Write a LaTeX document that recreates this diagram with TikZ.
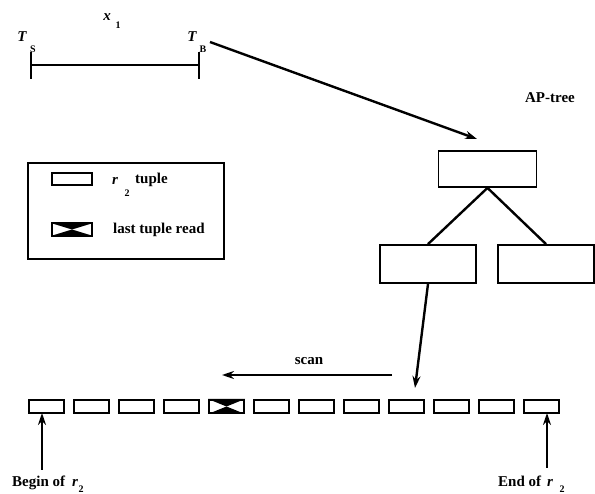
\documentclass[tikz,border=0pt]{standalone}
\usepackage{fontspec}
\setmainfont{Liberation Serif}
\usetikzlibrary{arrows.meta}
\begin{document}
\begin{tikzpicture}[x=1pt,y=-1pt,
  txt/.style={inner sep=0pt,font=\fontsize{15}{17}\selectfont\bfseries},
  itx/.style={inner sep=0pt,font=\fontsize{15}{17}\selectfont\bfseries\itshape},
  sub/.style={inner sep=0pt,font=\fontsize{10}{11}\selectfont\bfseries},
  tbox/.style={draw,line width=2pt,inner sep=0pt,minimum width=35pt,minimum height=13pt},
  treebox/.style={draw,line width=1.8pt,inner sep=0pt},
  conn/.style={line width=2.4pt},
  arr/.style={line width=2.4pt,-{Stealth[length=12pt,width=8pt]}}]
\useasboundingbox (0,0) rectangle (595,494);
% interval x_1
\coordinate (ts) at (31,65);
\coordinate (tb) at (199,65);
\draw[line width=2.2pt] (ts) -- (tb);
\draw[line width=2.8pt] (31,52) -- (31,79);
\draw[line width=2.8pt] (199,52) -- (199,79);
\node[itx] (xl) at (107,17) {x};
\node[sub] (xs) at (118,25) {1};
\node[itx] (tsl) at (22,37) {T};
\node[sub] (tss) at (33,49) {S};
\node[itx] (tbl) at (192,37) {T};
\node[sub] (tbs) at (203,49) {B};
% AP-tree
\node[txt] (apl) at (550,98) {AP-tree};
\node[treebox,minimum width=98pt,minimum height=36pt] (root) at (487.5,169) {};
\node[treebox,minimum width=96pt,minimum height=38pt] (lc) at (428,264) {};
\node[treebox,minimum width=96pt,minimum height=38pt] (rc) at (546,264) {};
\draw[conn] (root.south) -- (lc.north);
\draw[conn] (root.south) -- (rc.north);
\coordinate (tbstart) at (210,42);
\coordinate (roottip) at (477,139);
\draw[arr] (tbstart) -- (roottip);
% legend
\node[draw,line width=1.8pt,minimum width=196pt,minimum height=96pt,inner sep=0pt] (legend) at (126,211) {};
\node[draw,line width=2pt,inner sep=0pt,minimum width=40pt,minimum height=12pt] (lg1) at (72,179) {};
\node[itx,anchor=base] (lgr) at (115,185) {r};
\node[sub] (lgs) at (127,193) {2};
\node[txt,anchor=base west] (lgt) at (135,184) {tuple};
\node[inner sep=0pt,minimum width=40pt,minimum height=12pt] (lg2) at (72,229.5) {};
\fill (lg2.north west) -- (lg2.center) -- (lg2.north east) -- cycle;
\fill (lg2.south west) -- (lg2.center) -- (lg2.south east) -- cycle;
\draw[line width=2pt] (lg2.north west) rectangle (lg2.south east);
\node[txt,anchor=base west] (lgl) at (113,234) {last tuple read};
% tuples
\foreach \i in {0,...,11} {
  \node[tbox] (b\i) at (46.5+45*\i,406.5) {};
}
\fill (b4.north west) -- (b4.center) -- (b4.north east) -- cycle;
\fill (b4.south west) -- (b4.center) -- (b4.south east) -- cycle;
% scan
\node[txt] (scanl) at (309,361) {scan};
\coordinate (scs) at (392,375);
\coordinate (sce) at (222,375);
\draw[arr] (scs) -- (sce);
\coordinate (lctip) at (415,388);
\draw[arr] (lc.south) -- (lctip);
% begin / end
\coordinate (bgs) at (42,470);
\coordinate (bge) at (42,413);
\draw[arr] (bgs) -- (bge);
\coordinate (eds) at (547,468);
\coordinate (ede) at (547,413);
\draw[arr] (eds) -- (ede);
\node[txt,anchor=base west] (bgl) at (12,486) {Begin of};
\node[itx,anchor=base west] (bgr) at (72,486) {r};
\node[sub] (bgs2) at (81,489) {2};
\node[txt,anchor=base west] (edl) at (498,486) {End of};
\node[itx,anchor=base west] (edr) at (547,486) {r};
\node[sub] (eds2) at (562,489) {2};
\end{tikzpicture}
\end{document}
